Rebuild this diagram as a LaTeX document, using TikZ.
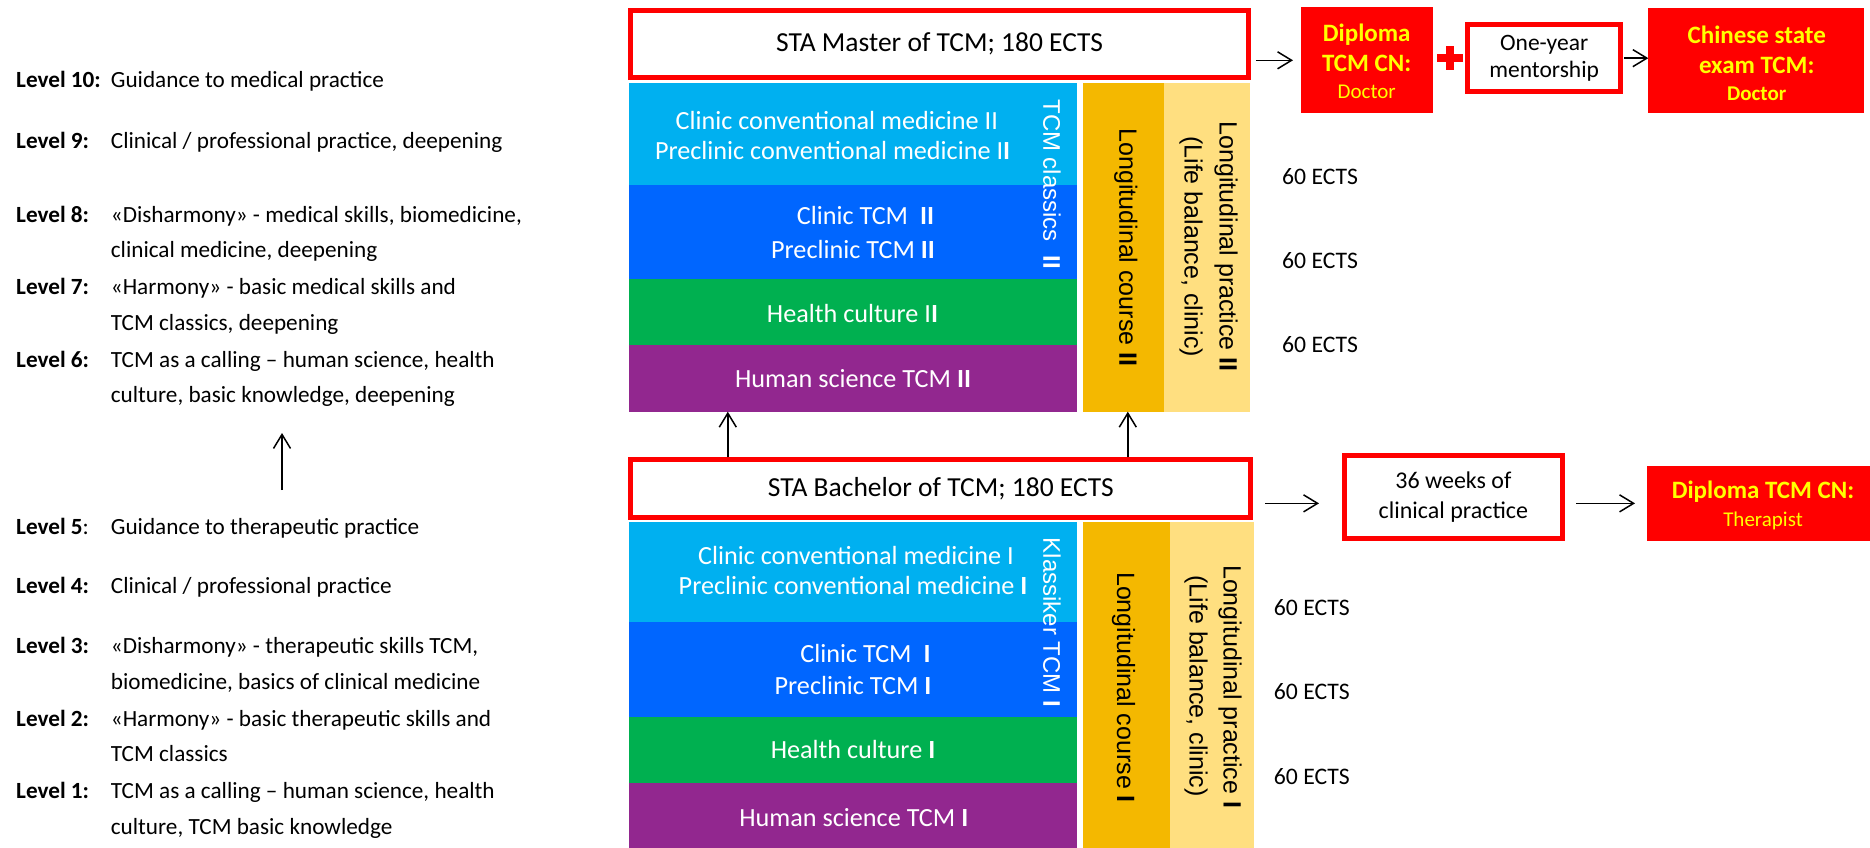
\documentclass[tikz,border=0pt]{standalone}
\usepackage{fontspec}
\setmainfont{Carlito}
\newfontfamily\arialf{Liberation Sans}
\usetikzlibrary{arrows.meta}
\definecolor{lblue}{HTML}{00B0F0}
\definecolor{dblue}{HTML}{0066FF}
\definecolor{cgreen}{HTML}{00B050}
\definecolor{cpurple}{HTML}{92278F}
\definecolor{corange}{HTML}{F4B800}
\definecolor{cyellow}{HTML}{FFDF80}
\definecolor{cred}{HTML}{FF0000}
\definecolor{ytext}{HTML}{FFFF00}
\tikzset{
  lvl/.style={anchor=base west, inner sep=0pt, font=\fontsize{23.2}{27}\selectfont},
  blk/.style={anchor=base, inner sep=0pt, text=white, font=\fontsize{26.2}{30}\selectfont},
  ects/.style={anchor=base west, inner sep=0pt, font=\fontsize{23.7}{28}\selectfont},
  area/.style={rectangle, inner sep=0pt, outer sep=0pt},
  headbox/.style={rectangle, draw=cred, line width=5pt, fill=white, inner sep=0pt, font=\fontsize{27.5}{33}\selectfont},
  whitebox/.style={rectangle, draw=cred, line width=5pt, fill=white, inner sep=0pt, align=center},
  redbox/.style={rectangle, fill=cred, inner sep=0pt, outer sep=0pt},
  redtxt/.style={anchor=base, inner sep=0pt, text=ytext},
  rottxt/.style={rotate=-90, inner sep=0pt, font=\arialf\fontsize{25}{30}\selectfont},
  arr/.style={-{Straight Barb[length=14pt,width=17pt]}, line width=1.5pt},
}
\begin{document}
\begin{tikzpicture}[x=1pt,y=-1pt]
\useasboundingbox (0,0) rectangle (1870,847);

% ---------------- left: levels ----------------
\node[lvl] (l10) at (16,87) {\textbf{Level 10:}};
\node[lvl] (d10) at (110.7,87) {Guidance to medical practice};
\node[lvl] (l9) at (16,148) {\textbf{Level 9:}};
\node[lvl] (d9) at (110.7,148) {Clinical / professional practice, deepening};
\node[lvl] (l8) at (16,222.5) {\textbf{Level 8:}};
\node[lvl] (d8a) at (110.7,222.5) {«Disharmony» - medical skills, biomedicine,};
\node[lvl] (d8b) at (110.7,257.5) {clinical medicine, deepening};
\node[lvl] (l7) at (16,294.5) {\textbf{Level 7:}};
\node[lvl] (d7a) at (110.7,294.5) {«Harmony» - basic medical skills and};
\node[lvl] (d7b) at (110.7,330) {TCM classics, deepening};
\node[lvl] (l6) at (16,367) {\textbf{Level 6:}};
\node[lvl] (d6a) at (110.7,367) {TCM as a calling – human science, health};
\node[lvl] (d6b) at (110.7,402) {culture, basic knowledge, deepening};

\coordinate (la1) at (282,490);
\coordinate (la2) at (282,433);
\draw[arr] (la1) -- (la2);

\node[lvl] (l5) at (16,534.5) {\textbf{Level 5}:};
\node[lvl] (d5) at (110.7,534.5) {Guidance to therapeutic practice};
\node[lvl] (l4) at (16,593) {\textbf{Level 4:}};
\node[lvl] (d4) at (110.7,593) {Clinical / professional practice};
\node[lvl] (l3) at (16,653.5) {\textbf{Level 3:}};
\node[lvl] (d3a) at (110.7,653.5) {«Disharmony» - therapeutic skills TCM,};
\node[lvl] (d3b) at (110.7,689.5) {biomedicine, basics of clinical medicine};
\node[lvl] (l2) at (16,726.5) {\textbf{Level 2:}};
\node[lvl] (d2a) at (110.7,726.5) {«Harmony» - basic therapeutic skills and};
\node[lvl] (d2b) at (110.7,761.5) {TCM classics};
\node[lvl] (l1) at (16,798.5) {\textbf{Level 1:}};
\node[lvl] (d1a) at (110.7,798.5) {TCM as a calling – human science, health};
\node[lvl] (d1b) at (110.7,834.5) {culture, TCM basic knowledge};

% ---------------- master ----------------
\node[headbox, minimum width=617.6pt, minimum height=66.7pt] (master) at (939.6,44.15) {STA Master of TCM; 180 ECTS};
\node[area, fill=lblue, minimum width=448pt, minimum height=101.7pt] (mlb) at (853,134.15) {};
\node[area, fill=dblue, minimum width=448pt, minimum height=94.3pt] (mbl) at (853,232.15) {};
\node[area, fill=cgreen, minimum width=448pt, minimum height=65.7pt] (mgr) at (853,312.15) {};
\node[area, fill=cpurple, minimum width=448pt, minimum height=66.7pt] (mpu) at (853,378.35) {};
\node[area, fill=corange, minimum width=80.4pt, minimum height=328.4pt] (mor) at (1123.6,247.5) {};
\node[area, fill=cyellow, minimum width=86.2pt, minimum height=328.4pt] (mye) at (1206.9,247.5) {};

\node[blk] (mt1) at (836.8,129.7) {Clinic conventional medicine II};
\node[blk] (mt2) at (832.6,159.7) {Preclinic conventional medicine I\textbf{I}};
\node[blk] (mt3) at (865.4,224) {Clinic TCM\ \ \textbf{II}};
\node[blk] (mt4) at (853,258) {Preclinic TCM \textbf{II}};
\node[blk] (mt5) at (852.5,322.3) {Health culture I\textbf{I}};
\node[blk] (mt6) at (853,387.3) {Human science TCM \textbf{II}};
\node[rottxt, text=white, font=\arialf\fontsize{24}{29}\selectfont] (mr1) at (1052,184) {TCM classics\ \ \textbf{II}};
\node[rottxt] (mr2) at (1125.7,247.5) {Longitudinal course \textbf{II}};
\node[rottxt] (mr3) at (1226,246.7) {Longitudinal practice \textbf{II}};
\node[rottxt] (mr4) at (1191,246.7) {(Life balance, clinic)};

\node[ects] (me1) at (1282,184.3) {60 ECTS};
\node[ects] (me2) at (1282,268.6) {60 ECTS};
\node[ects] (me3) at (1282,352.6) {60 ECTS};

% ---------------- bachelor ----------------
\node[headbox, minimum width=620.1pt, minimum height=57.7pt] (bach) at (940.85,488.65) {STA Bachelor of TCM; 180 ECTS};
\node[area, fill=lblue, minimum width=448pt, minimum height=100pt] (blb) at (853,571.7) {};
\node[area, fill=dblue, minimum width=448pt, minimum height=95pt] (bbl) at (853,669.2) {};
\node[area, fill=cgreen, minimum width=448pt, minimum height=66.6pt] (bgr) at (853,750) {};
\node[area, fill=cpurple, minimum width=448pt, minimum height=66.7pt] (bpu) at (853,816.65) {};
\node[area, fill=corange, minimum width=86.6pt, minimum height=328.3pt] (bor) at (1126.7,685.85) {};
\node[area, fill=cyellow, minimum width=84pt, minimum height=328.3pt] (bye) at (1212,685.85) {};

\node[blk] (bt1) at (856,564.7) {Clinic conventional medicine I};
\node[blk] (bt2) at (853,594.7) {Preclinic conventional medicine \textbf{I}};
\node[blk] (bt3) at (865.4,662) {Clinic TCM\ \ \textbf{I}};
\node[blk] (bt4) at (853,694.7) {Preclinic TCM \textbf{I}};
\node[blk] (bt5) at (853,758) {Health culture \textbf{I}};
\node[blk] (bt6) at (853.8,826.3) {Human science TCM \textbf{I}};
\node[rottxt, text=white, font=\arialf\fontsize{24}{29}\selectfont] (br1) at (1052,622.5) {Klassiker TCM \textbf{I}};
\node[rottxt] (br2) at (1123.6,687.5) {Longitudinal course \textbf{I}};
\node[rottxt] (br3) at (1230,686.7) {Longitudinal practice \textbf{I}};
\node[rottxt] (br4) at (1196,686) {(Life balance, clinic)};

\node[ects] (be1) at (1273.7,615.6) {60 ECTS};
\node[ects] (be2) at (1273.7,699.3) {60 ECTS};
\node[ects] (be3) at (1273.7,784) {60 ECTS};

% arrows bachelor -> master
\coordinate (vx1) at (727.8,0);
\coordinate (vx2) at (1127.8,0);
\draw[arr] (vx1 |- bach.north) -- (vx1 |- mpu.south);
\draw[arr] (vx2 |- bach.north) -- (vx2 |- mor.south);

% ---------------- right: master path ----------------
\node[redbox, minimum width=132pt, minimum height=106pt] (dip) at (1366.7,60.3) {};
\node[redtxt, font=\bfseries\fontsize{25}{30}\selectfont] (dip1) at (1366.7,41) {Diploma};
\node[redtxt, font=\bfseries\fontsize{25}{30}\selectfont] (dip2) at (1366.7,71) {TCM CN:};
\node[redtxt, font=\fontsize{21}{25}\selectfont] (dip3) at (1366.7,98.6) {Doctor};

\fill[cred] (1437.3,53.5) rectangle (1462.7,61.8);
\fill[cred] (1445.8,45.7) rectangle (1454.2,70);

\node[whitebox, minimum width=153.3pt, minimum height=66.7pt, font=\fontsize{23.5}{27}\selectfont] (ment) at (1544.15,58.15) {One-year\\mentorship};

\node[redbox, minimum width=216pt, minimum height=105pt] (chin) at (1756.3,60.8) {};
\node[redtxt, font=\bfseries\fontsize{25}{30}\selectfont] (chin1) at (1756.7,43) {Chinese state};
\node[redtxt, font=\bfseries\fontsize{25}{30}\selectfont] (chin2) at (1756.7,73) {exam TCM:};
\node[redtxt, font=\bfseries\fontsize{21}{25}\selectfont] (chin3) at (1756.7,100) {Doctor};

\draw[arr, shorten <=5pt, shorten >=7.7pt] (master.east |- dip.west) -- (dip.west);
\draw[arr, shorten <=1pt] (ment.east) -- (chin.west |- ment.east);

% ---------------- right: bachelor path ----------------
\node[whitebox, minimum width=218.3pt, minimum height=82.7pt, font=\fontsize{24}{29.5}\selectfont] (wk) at (1453.35,496.85) {36 weeks of\\clinical practice};
\node[redbox, minimum width=233.3pt, minimum height=74.7pt] (ther) at (1763.35,503.35) {};
\node[redtxt, font=\bfseries\fontsize{25}{30}\selectfont] (ther1) at (1763,498.7) {Diploma TCM CN:};
\node[redtxt, font=\fontsize{21}{25}\selectfont] (ther2) at (1763,526) {Therapist};

\draw[arr, shorten <=11.6pt, shorten >=22.7pt] (bach.east |- ther.west) -- (wk.west |- ther.west);
\draw[arr, shorten <=11pt, shorten >=11.7pt] (wk.east |- ther.west) -- (ther.west);
\end{tikzpicture}
\end{document}
